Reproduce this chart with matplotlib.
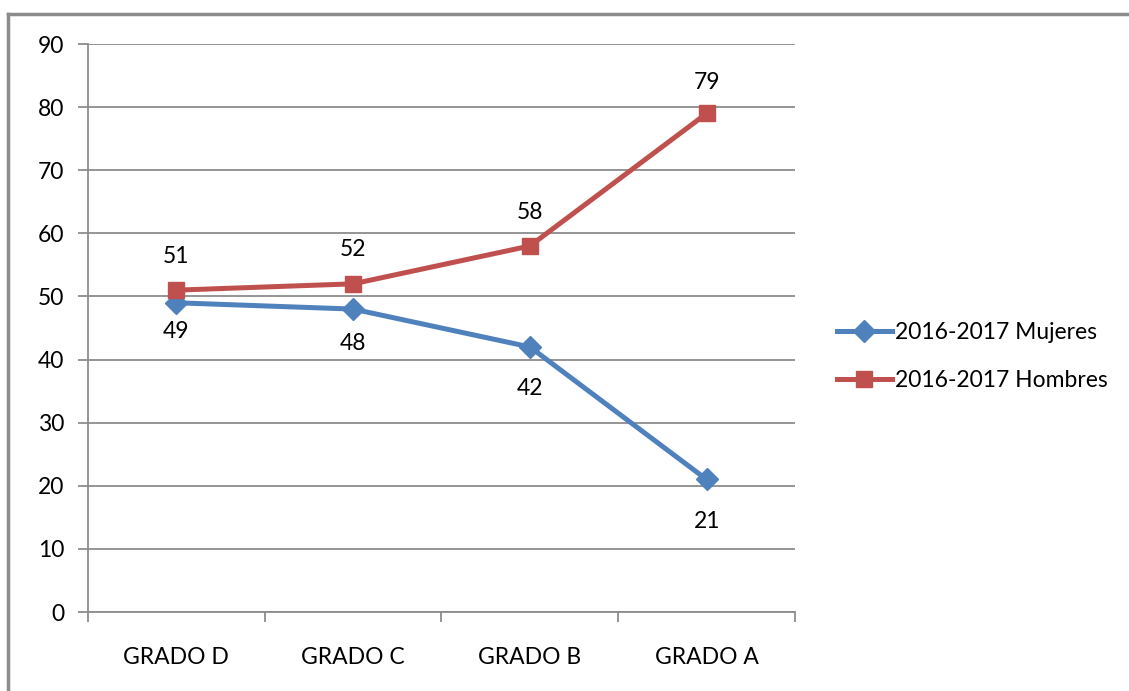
import matplotlib.pyplot as plt
from matplotlib.lines import Line2D

categorias = ['GRADO D', 'GRADO C', 'GRADO B', 'GRADO A']
mujeres = [49, 48, 42, 21]
hombres = [51, 52, 58, 79]
etiquetas = ['2016-2017 Mujeres', '2016-2017 Hombres']

# desplazamiento (pt) de las etiquetas de datos
desp_muj = [-21, -25, -30, -30]
desp_hom = [24, 25, 24, 22]

plt.rcParams['font.family'] = ['Lato', 'DejaVu Sans']
azul = '#4F81BD'
rojo = '#C0504D'
gris = '#8C8C8C'
fs = 16.5

fig = plt.figure(figsize=(11.29, 6.91), dpi=100)
ax = fig.add_axes([0.0779, 0.1143, 0.7042 - 0.0779, 0.9363 - 0.1143])

x = [i + 0.5 for i in range(len(categorias))]
ax.plot(x, mujeres, color=azul, lw=3.6, marker='D', ms=11, label=etiquetas[0], zorder=3)
ax.plot(x, hombres, color=rojo, lw=3.6, marker='s', ms=12, label=etiquetas[1], zorder=3)

for xi, v, d in zip(x, mujeres, desp_muj):
    ax.annotate(str(v), (xi, v), xytext=(0, d), textcoords='offset points',
                ha='center', va='center', fontsize=fs)
for xi, v, d in zip(x, hombres, desp_hom):
    ax.annotate(str(v), (xi, v), xytext=(0, d), textcoords='offset points',
                ha='center', va='center', fontsize=fs)

ax.set_xlim(0, 4)
ax.set_ylim(0, 90)
ax.set_yticks(range(0, 91, 10))
ax.set_xticks(range(5))
ax.set_xticklabels([])
ax.set_xticks(x, minor=True)
ax.set_xticklabels(categorias, minor=True)
ax.tick_params(axis='x', which='minor', length=0, pad=25, labelsize=fs)
ax.tick_params(axis='x', which='major', length=7, width=1.3, color=gris)
ax.tick_params(axis='y', length=7, width=1.3, color=gris, labelsize=fs, pad=10)
ax.grid(axis='y', color=gris, lw=1.3)
ax.set_axisbelow(True)
for s in ['top', 'right']:
    ax.spines[s].set_visible(False)
for s in ['left', 'bottom']:
    ax.spines[s].set_color(gris)
    ax.spines[s].set_linewidth(1.3)

leg = ax.legend(loc='center left', bbox_to_anchor=(1.03, 0.45), frameon=False,
                fontsize=fs, handlelength=2.4, labelspacing=1.2, handletextpad=0.15)

# borde del gráfico
fig.add_artist(Line2D([0.0075, 0.0075], [0, 1 - 14 / 691], color=gris, lw=2.5))
fig.add_artist(Line2D([0.0075, 1], [1 - 14 / 691, 1 - 14 / 691], color=gris, lw=2.5))

fig.savefig('out.png', dpi=100)
